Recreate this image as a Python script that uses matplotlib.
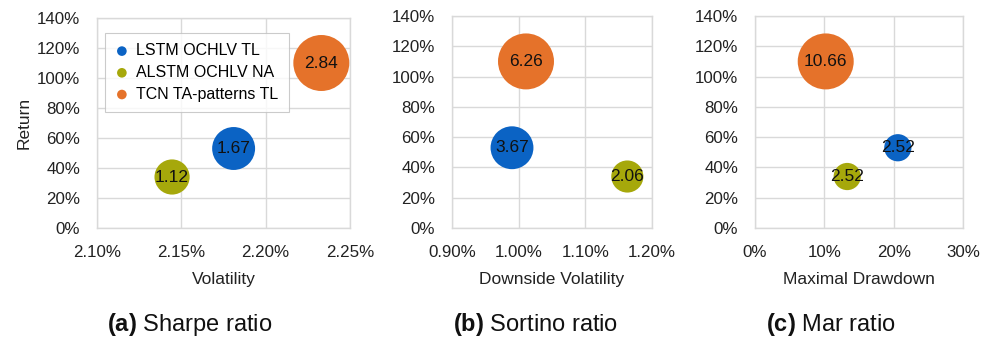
import matplotlib
matplotlib.use("Agg")
import matplotlib.pyplot as plt
import numpy as np
from matplotlib.ticker import FuncFormatter

plt.rcParams['font.family'] = ['Liberation Sans', 'DejaVu Sans']
plt.rcParams['mathtext.fontset'] = 'custom'
plt.rcParams['mathtext.rm'] = 'Liberation Sans'
plt.rcParams['mathtext.bf'] = 'Liberation Sans:bold'

# Models (series order)
models = ["LSTM OCHLV TL", "ALSTM OCHLV NA", "TCN TA-patterns TL"]
colors = ["#0b63c4", "#a6a80b", "#e5722a"]

# Annual return (%)
returns = [53.0, 34.0, 110.0]

# Risk measures (%)
volatility = [2.181, 2.1445, 2.233]
downside_volatility = [0.990, 1.163, 1.011]
max_drawdown = [20.6, 13.3, 10.2]

# Risk-adjusted ratios (bubble size and label)
sharpe = [1.67, 1.12, 2.84]
sortino = [3.67, 2.06, 6.26]
mar = [2.52, 2.52, 10.66]

y_ticks = [0, 20, 40, 60, 80, 100, 120, 140]
vol_ticks = [2.10, 2.15, 2.20, 2.25]
dvol_ticks = [0.90, 1.00, 1.10, 1.20]
mdd_ticks = [0, 10, 20, 30]

W, H = 987, 351
fig = plt.figure(figsize=(W / 100, H / 100), dpi=100)


def frame(left, top, right, bottom):
    return [left / W, 1 - bottom / H, (right - left) / W, (bottom - top) / H]


panels = [
    dict(rect=frame(97, 18, 350, 228), x=volatility, ratio=sharpe, xticks=vol_ticks,
         fmt="{:.2f}%", xlabel="Volatility", caption=r"$\mathbf{(a)}$ Sharpe ratio", cx=190),
    dict(rect=frame(452, 16, 652, 228), x=downside_volatility, ratio=sortino, xticks=dvol_ticks,
         fmt="{:.2f}%", xlabel="Downside Volatility", caption=r"$\mathbf{(b)}$ Sortino ratio", cx=536),
    dict(rect=frame(755, 16, 963, 228), x=max_drawdown, ratio=mar, xticks=mdd_ticks,
         fmt="{:.0f}%", xlabel="Maximal Drawdown", caption=r"$\mathbf{(c)}$ Mar ratio", cx=831),
]

grid_c = "#d9d9d9"
max_area = 1625.0  # marker area (pt^2) of the largest bubble in each panel

for i, p in enumerate(panels):
    ax = fig.add_axes(p["rect"])
    ratio = np.array(p["ratio"])
    sizes = max_area * ratio / ratio.max()
    for j in range(len(models)):
        ax.scatter(p["x"][j], returns[j], s=sizes[j], color=colors[j],
                   edgecolors="none", label=models[j], zorder=3, clip_on=False)
        ax.text(p["x"][j], returns[j], f"{p['ratio'][j]:.2f}", ha="center", va="center",
                fontsize=12.5, color="#111111", zorder=4)
    ax.set_xlim(p["xticks"][0], p["xticks"][-1])
    ax.set_ylim(0, 140)
    ax.set_xticks(p["xticks"])
    ax.set_yticks(y_ticks)
    fmt = p["fmt"]
    ax.xaxis.set_major_formatter(FuncFormatter(lambda v, _, f=fmt: f.format(v)))
    ax.yaxis.set_major_formatter(FuncFormatter(lambda v, _: f"{v:.0f}%"))
    ax.tick_params(length=0, labelsize=12.2, colors="#222222", pad=12)
    ax.grid(True, color=grid_c, linewidth=1.0, zorder=0)
    ax.set_axisbelow(True)
    for s in ax.spines.values():
        s.set_color(grid_c)
        s.set_linewidth(1.0)
    ax.set_xlabel(p["xlabel"], fontsize=12.5, color="#222222", labelpad=9)
    if i == 0:
        ax.set_ylabel("Return", fontsize=12.5, color="#222222", labelpad=4)
        leg = ax.legend(loc="upper left", bbox_to_anchor=(0.032, 0.929), borderaxespad=0,
                        fontsize=11.5, markerscale=1, frameon=True, fancybox=False,
                        edgecolor="#bfbfbf", handlelength=0.8, handletextpad=0.5,
                        labelspacing=0.42, borderpad=0.65)
        for h in leg.legend_handles:
            h.set_sizes([48])
        leg.get_frame().set_linewidth(0.8)
        leg.set_zorder(5)
    fig.text(p["cx"] / W, 1 - 324 / H, p["caption"], ha="center", va="center",
             fontsize=17, color="#111111")

fig.savefig("out.png", dpi=100, facecolor="white")
